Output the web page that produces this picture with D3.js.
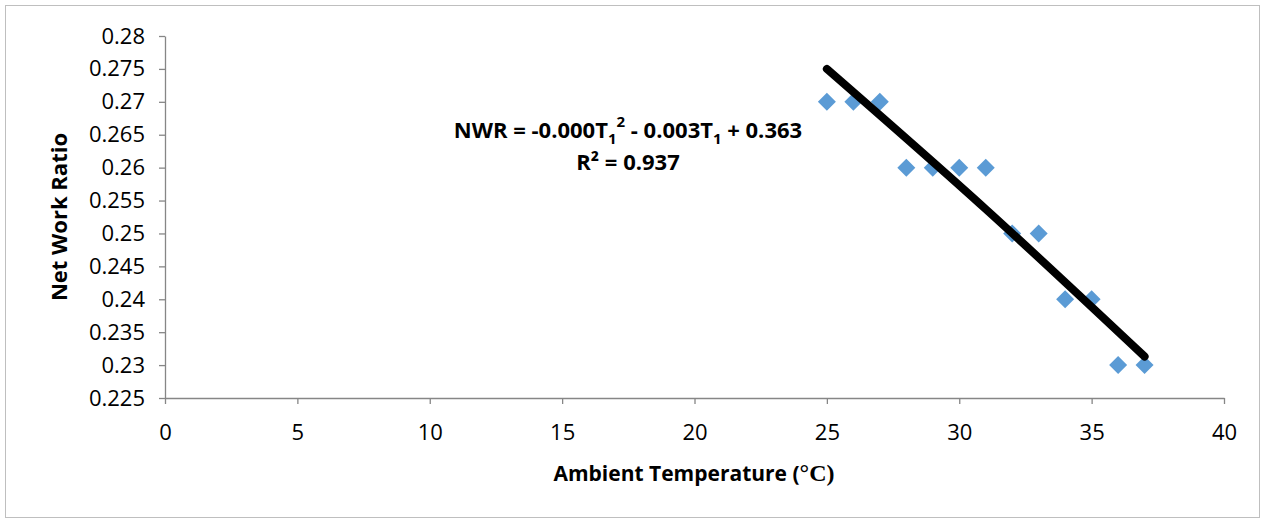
<!DOCTYPE html>
<html>
<head>
<meta charset="utf-8">
<script src="https://cdn.jsdelivr.net/npm/d3@7"></script>
<style>
  body { margin: 0; background: #fff; }
  svg { display: block; }
  text { font-family: "Open Sans", sans-serif; }
</style>
</head>
<body>
<svg width="1263" height="518"></svg>
<script>
// Data
const temps = [25, 26, 27, 28, 29, 30, 31, 32, 33, 34, 35, 36, 37]
const nwr = [0.27, 0.27, 0.27, 0.26, 0.26, 0.26, 0.26, 0.25, 0.25, 0.24, 0.24, 0.23, 0.23]
// trendline
const trendT = [25, 31, 37]
const trendNwr = [0.2750, 0.2537, 0.2313]
const xTicks = [0, 5, 10, 15, 20, 25, 30, 35, 40]
const yTicks = [0.225, 0.23, 0.235, 0.24, 0.245, 0.25, 0.255, 0.26, 0.265, 0.27, 0.275, 0.28]

const svg = d3.select('svg')

// chart border
svg.append('rect')
    .attr('x', 5.5).attr('y', 5.5)
    .attr('width', 1254).attr('height', 512)
    .attr('fill', 'none')
    .attr('stroke', '#bfbfbf')

const x = d3.scaleLinear().domain([0, 40]).range([165, 1224])
const y = d3.scaleLinear().domain([0.225, 0.28]).range([398, 36])

// axes
svg.append('g')
    .attr('transform', `translate(0,${y(0.225)})`)
    .call(d3.axisBottom(x).tickValues(xTicks).tickSize(6).tickPadding(20).tickSizeOuter(0))
svg.append('g')
    .attr('transform', `translate(${x(0)},0)`)
    .call(d3.axisLeft(y).tickValues(yTicks).tickSize(6).tickPadding(14).tickSizeOuter(0)
        .tickFormat(d => String(+d.toFixed(3))))

svg.selectAll('.domain, .tick line').attr('stroke', '#868686').attr('stroke-width', 1.3)
svg.selectAll('.tick text').attr('fill', '#000').style('font-size', '22px')

// points
svg.append('g')
    .selectAll('path')
    .data(temps)
    .join('path')
    .attr('d', d3.symbol(d3.symbolSquare, 162))
    .attr('transform', (d, i) => `translate(${x(d)},${y(nwr[i])}) rotate(45)`)
    .attr('fill', '#5b9bd5')

svg.append('path')
    .datum(trendT)
    .attr('d', d3.line().x(d => x(d)).y((d, i) => y(trendNwr[i])).curve(d3.curveNatural))
    .attr('fill', 'none')
    .attr('stroke', '#000')
    .attr('stroke-width', 8)
    .attr('stroke-linecap', 'round')

// equation label
const eq = svg.append('text')
    .attr('x', 628).attr('y', 138)
    .attr('text-anchor', 'middle')
    .style('font-size', '22px').style('font-weight', 'bold')
eq.append('tspan').text('NWR = -0.000T')
eq.append('tspan').text('1').attr('dy', 6).style('font-size', '15px')
eq.append('tspan').text('2').attr('dy', -17).style('font-size', '15px')
eq.append('tspan').text(' - 0.003T').attr('dy', 11)
eq.append('tspan').text('1').attr('dy', 6).style('font-size', '15px')
eq.append('tspan').text(' + 0.363').attr('dy', -6)

svg.append('text')
    .attr('x', 628).attr('y', 170)
    .attr('text-anchor', 'middle')
    .style('font-size', '22px').style('font-weight', 'bold')
    .text('R² = 0.937')

// axis titles
const xt = svg.append('text')
    .attr('x', 694).attr('y', 481)
    .attr('text-anchor', 'middle')
    .style('font-size', '21px').style('font-weight', 'bold')
xt.append('tspan').text('Ambient Temperature (')
xt.append('tspan').text('°C)').style('font-family', '"Liberation Serif", serif').style('font-size', '24px')

svg.append('text')
    .attr('transform', `translate(67,${(y(0.225) + y(0.28)) / 2}) rotate(-90)`)
    .attr('text-anchor', 'middle')
    .style('font-size', '22px').style('font-weight', 'bold')
    .text('Net Work Ratio')
</script>
</body>
</html>
